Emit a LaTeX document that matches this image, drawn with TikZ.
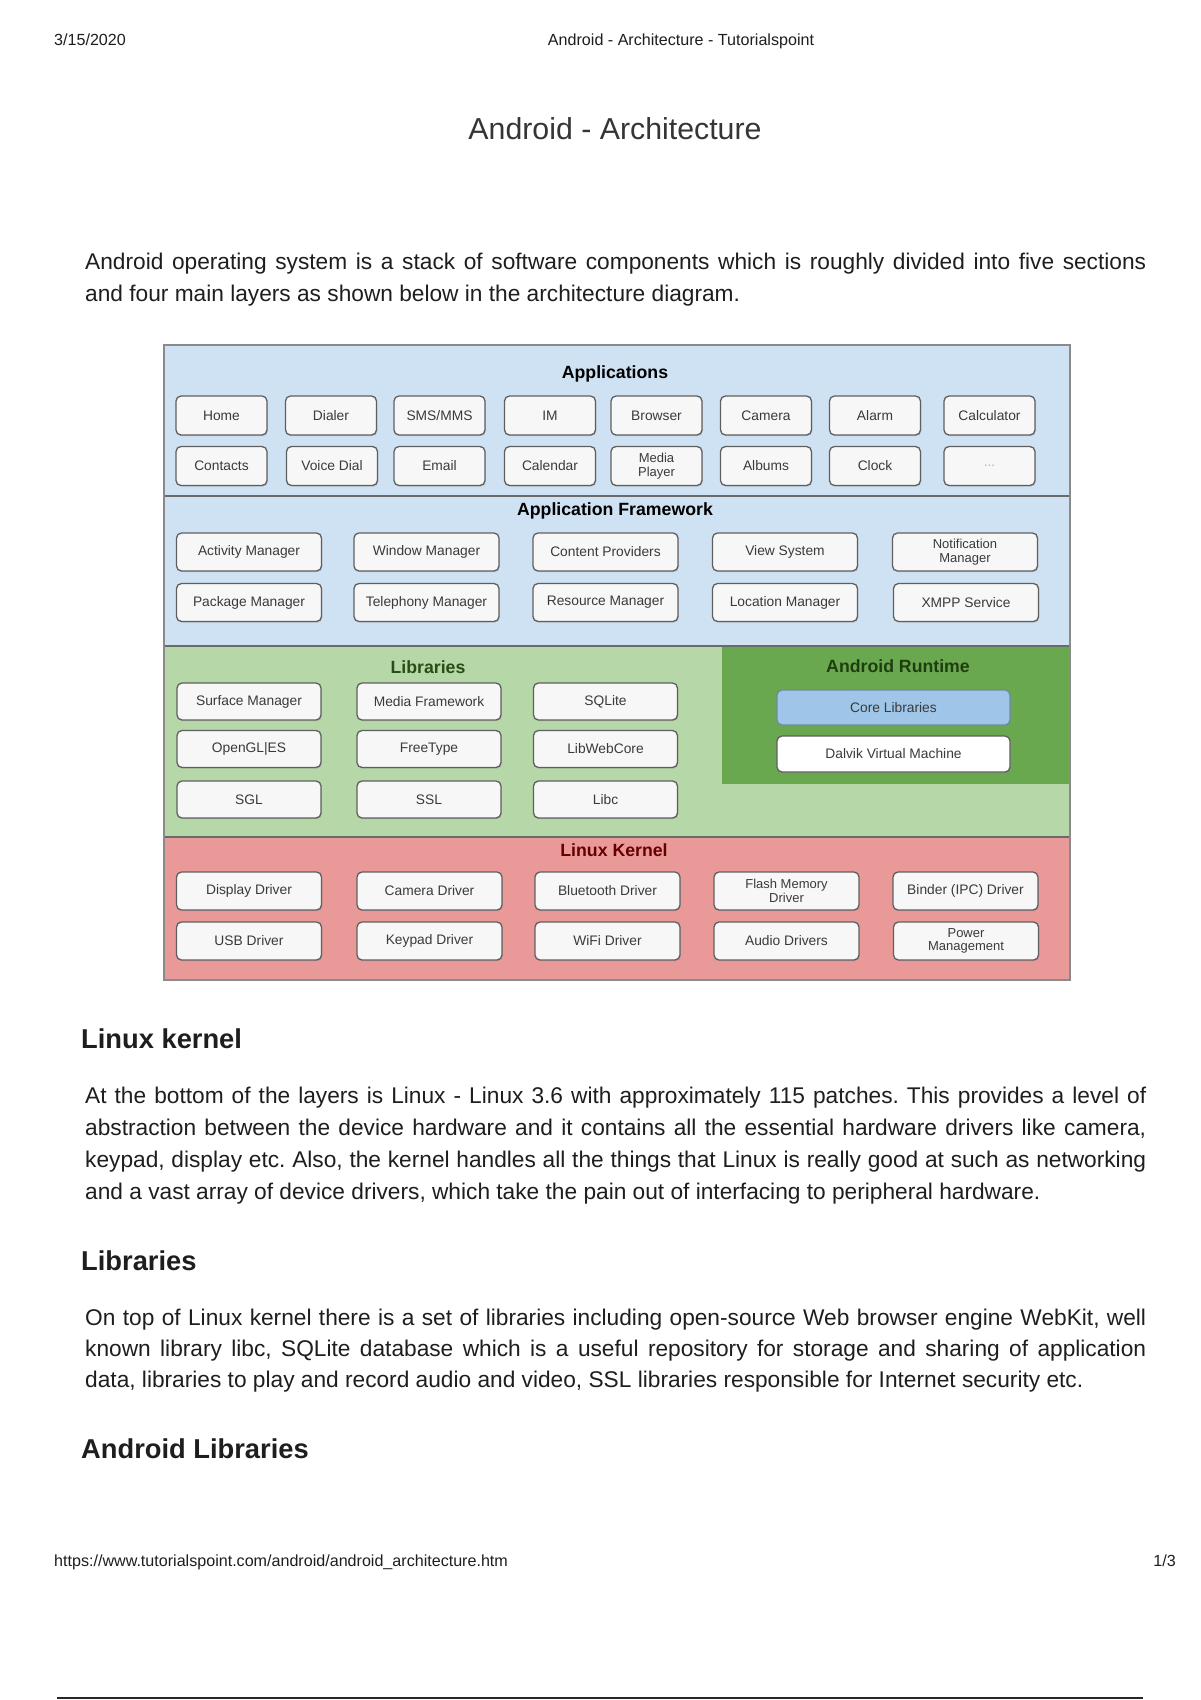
\documentclass[tikz,border=0pt]{standalone}
\usepackage{fontspec}
\setmainfont{Liberation Sans}
\usetikzlibrary{shadows}
\frenchspacing
\definecolor{appbg}{HTML}{CFE2F3}
\definecolor{libbg}{HTML}{B6D7A8}
\definecolor{rtbg}{HTML}{6AA84F}
\definecolor{kbg}{HTML}{EA9999}
\definecolor{corebg}{HTML}{9FC5E8}
\definecolor{boxfill}{HTML}{F7F7F7}
\definecolor{boxline}{HTML}{5F5F5F}
\definecolor{boxtext}{HTML}{3A3A3A}
\definecolor{libtitle}{HTML}{274E13}
\definecolor{ktitle}{HTML}{660000}
\definecolor{framecol}{HTML}{8A8A8A}
\definecolor{divcol}{HTML}{6A6A6A}
\definecolor{bodytext}{HTML}{1E1E1E}
\tikzset{
  comp/.style={draw=boxline, line width=1.3pt, rounded corners=5pt, fill=boxfill,
    drop shadow={shadow xshift=0.8pt, shadow yshift=-1.2pt, opacity=0.25},
    inner sep=0pt, align=center, font=\fontsize{13.8}{14.5}\selectfont, text=boxtext},
  twoline/.style={font=\fontsize{13}{13.5}\selectfont},
  appc/.style={comp, minimum width=91pt, minimum height=39pt},
  fwc/.style={comp, minimum width=145pt, minimum height=38pt},
  libc/.style={comp, minimum width=144pt, minimum height=37pt},
  rtc/.style={comp, minimum width=233pt, minimum height=35pt},
  kc/.style={comp, minimum width=145pt, minimum height=38pt},
  sectitle/.style={font=\bfseries\fontsize{17.7}{19}\selectfont, inner sep=0pt},
  bodyline/.style={font=\fontsize{22.7}{26}\selectfont, text=bodytext, inner sep=0pt, anchor=base west},
  headline/.style={font=\bfseries\fontsize{27.3}{31}\selectfont, text=bodytext, inner sep=0pt, anchor=base west},
  smallline/.style={font=\fontsize{16.1}{19}\selectfont, text=bodytext, inner sep=0pt},
  divline/.style={draw=divcol, line width=1.8pt},
}
\begin{document}
\begin{tikzpicture}[x=1pt, y=-1pt]
\path[fill=white] (0,0) rectangle (1200,1700);

% page header
\node[smallline, anchor=base west] (date) at (54,45) {3/15/2020};
\node[smallline, anchor=base] (hdr) at (681,45) {Android - Architecture - Tutorialspoint};
\node[font=\fontsize{30.3}{33}\selectfont, text=bodytext!90!white, inner sep=0pt, anchor=base] (title) at (615,139) {Android - Architecture};

% intro
\node[bodyline] (i1) at (85,269) {\makebox[1061pt][s]{Android operating system is a stack of software components which is roughly divided into five sections}};
\node[bodyline] (i2) at (85,301) {and four main layers as shown below in the architecture diagram.};

% diagram backgrounds
\fill[appbg] (164,345) rectangle (1070,646);
\fill[libbg] (164,646) rectangle (1070,837);
\fill[rtbg] (722,646) rectangle (1070,784);
\fill[kbg] (164,837) rectangle (1070,980);
\draw[divline] (164,496) -- (1070,496);
\draw[divline] (164,646) -- (1070,646);
\draw[divline] (164,837) -- (1070,837);
\draw[draw=framecol, line width=2pt] (164,345) rectangle (1070,980);

% Applications
\node[sectitle] (tapps) at (615,374) {Applications};
\node[appc] (home) at (221.5,415.5) {Home};
\node[appc] (dialer) at (331,415.5) {Dialer};
\node[appc] (sms) at (439.5,415.5) {SMS/MMS};
\node[appc] (im) at (550,415.5) {IM};
\node[appc] (browser) at (656.5,415.5) {Browser};
\node[appc] (camera) at (766,415.5) {Camera};
\node[appc] (alarm) at (875,415.5) {Alarm};
\node[appc] (calc) at (989.5,415.5) {Calculator};
\node[appc] (contacts) at (221.5,466) {Contacts};
\node[appc] (voice) at (332,466) {Voice Dial};
\node[appc] (email) at (439.5,466) {Email};
\node[appc] (calendar) at (550,466) {Calendar};
\node[appc, twoline] (media) at (656.5,466) {Media\\Player};
\node[appc] (albums) at (766,466) {Albums};
\node[appc] (clock) at (875,466) {Clock};
\node[appc, text=gray!60] (more) at (989.5,466) {...};

% Application Framework
\node[sectitle] (tfw) at (615,511) {Application Framework};
\node[fwc] (activity) at (249,552) {Activity Manager};
\node[fwc] (window) at (426.5,552) {Window Manager};
\node[fwc] (content) at (605.5,552) {Content Providers};
\node[fwc] (view) at (785,552) {View System};
\node[fwc, twoline] (notif) at (965,552) {Notification\\Manager};
\node[fwc] (package) at (249,602.5) {Package Manager};
\node[fwc] (tele) at (426.5,602.5) {Telephony Manager};
\node[fwc] (resource) at (605.5,602.5) {Resource Manager};
\node[fwc] (location) at (785,602.5) {Location Manager};
\node[fwc] (xmpp) at (966,602.5) {XMPP Service};

% Libraries
\node[sectitle, text=libtitle] (tlib) at (428,667) {Libraries};
\node[libc] (surface) at (249,701.5) {Surface Manager};
\node[libc] (mediafw) at (429,701.5) {Media Framework};
\node[libc] (sqlite) at (605.5,701.5) {SQLite};
\node[libc] (opengl) at (249,749) {OpenGL|ES};
\node[libc] (freetype) at (429,749) {FreeType};
\node[libc] (webkit) at (605.5,749) {LibWebCore};
\node[libc] (sgl) at (249,799.5) {SGL};
\node[libc] (ssl) at (429,799.5) {SSL};
\node[libc] (libc) at (605.5,799.5) {Libc};

% Android Runtime
\node[sectitle, text=libtitle!80!black] (trt) at (898,666) {Android Runtime};
\node[rtc, fill=corebg, draw=corebg!70!black] (core) at (893.5,707.5) {Core Libraries};
\node[rtc, fill=white, minimum height=36pt] (dalvik) at (893.5,754) {Dalvik Virtual Machine};

% Linux Kernel
\node[sectitle, text=ktitle] (tk) at (614,850) {Linux Kernel};
\node[kc] (display) at (249,891) {Display Driver};
\node[kc] (camdrv) at (429.5,891) {Camera Driver};
\node[kc] (bt) at (607.5,891) {Bluetooth Driver};
\node[kc, twoline] (flash) at (786.5,891) {Flash Memory\\Driver};
\node[kc] (binder) at (965.5,891) {Binder (IPC) Driver};
\node[kc] (usb) at (249,941) {USB Driver};
\node[kc] (keypad) at (429.5,941) {Keypad Driver};
\node[kc] (wifi) at (607.5,941) {WiFi Driver};
\node[kc] (audio) at (786.5,941) {Audio Drivers};
\node[kc, twoline] (power) at (966,941) {Power\\Management};

% Linux kernel text
\node[headline] (h1) at (81,1048) {Linux kernel};
\node[bodyline] (k1) at (85,1103) {\makebox[1061pt][s]{At the bottom of the layers is Linux - Linux 3.6 with approximately 115 patches. This provides a level of}};
\node[bodyline] (k2) at (85,1135) {\makebox[1061pt][s]{abstraction between the device hardware and it contains all the essential hardware drivers like camera,}};
\node[bodyline] (k3) at (85,1167) {\makebox[1061pt][s]{keypad, display etc. Also, the kernel handles all the things that Linux is really good at such as networking}};
\node[bodyline] (k4) at (85,1199) {and a vast array of device drivers, which take the pain out of interfacing to peripheral hardware.};

% Libraries text
\node[headline] (h2) at (81,1270) {Libraries};
\node[bodyline] (l1) at (85,1325) {\makebox[1061pt][s]{On top of Linux kernel there is a set of libraries including open-source Web browser engine WebKit, well}};
\node[bodyline] (l2) at (85,1356) {\makebox[1061pt][s]{known library libc, SQLite database which is a useful repository for storage and sharing of application}};
\node[bodyline] (l3) at (85,1387) {data, libraries to play and record audio and video, SSL libraries responsible for Internet security etc.};

\node[headline] (h3) at (81,1458) {Android Libraries};

% footer
\node[smallline, anchor=base west] (url) at (54,1566) {https://www.tutorialspoint.com/android/android\_architecture.htm};
\node[smallline, anchor=base east] (pg) at (1176,1566) {1/3};
\coordinate (bl) at (57,1698);
\coordinate (br) at (1143,1698);
\draw[line width=2.5pt, black!85] (bl) -- (br);
\end{tikzpicture}
\end{document}
